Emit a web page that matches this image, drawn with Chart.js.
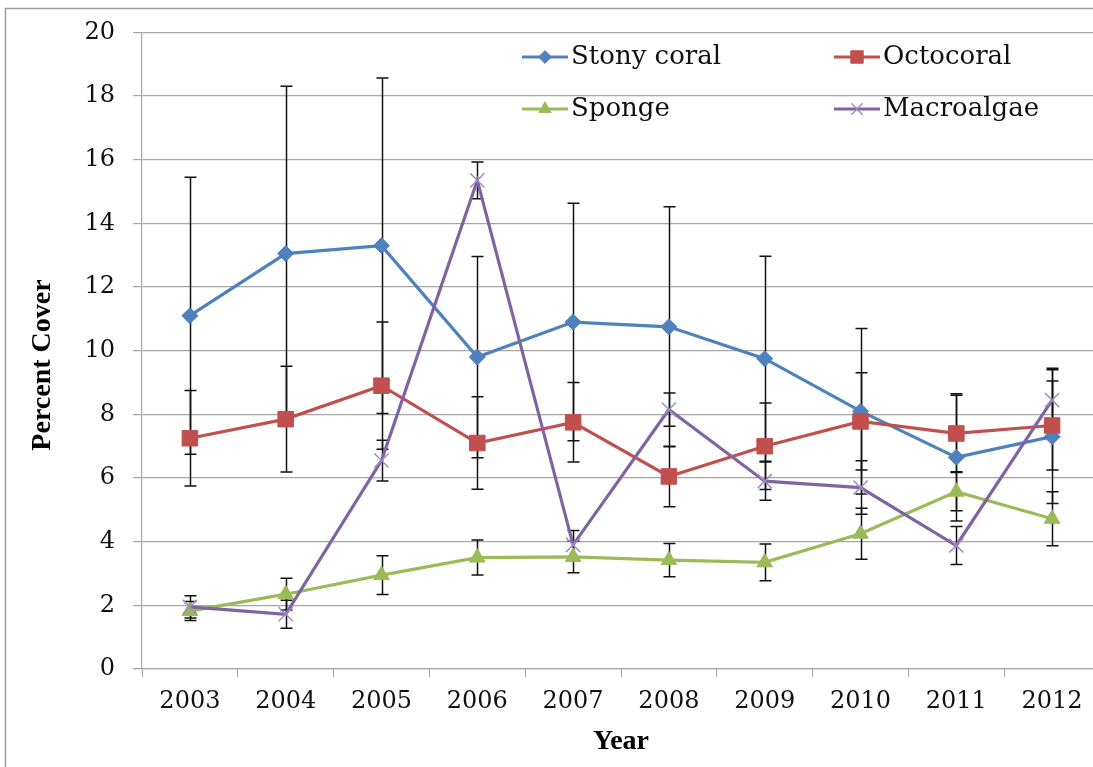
<!DOCTYPE html>
<html>
<head>
<meta charset="utf-8">
<title>Percent Cover by Year</title>
<script src="https://cdn.jsdelivr.net/npm/chart.js@4.4.1/dist/chart.umd.min.js"></script>
<style>
  html, body { margin: 0; padding: 0; background: #fff; overflow: hidden; }
  #wrap { position: relative; width: 1112px; height: 767px; }
</style>
</head>
<body>
<div id="wrap"><canvas id="chart"></canvas></div>
<script>
// Survey years
const years = ['2003', '2004', '2005', '2006', '2007', '2008', '2009', '2010', '2011', '2012'];

// Mean percent cover per group
const stonyCoral = [11.1, 13.05, 13.3, 9.8, 10.9, 10.75, 9.75, 8.1, 6.65, 7.3];
const octocoral  = [7.25, 7.85, 8.9, 7.1, 7.75, 6.05, 7.0, 7.78, 7.4, 7.65];
const sponge     = [1.82, 2.35, 2.95, 3.5, 3.52, 3.42, 3.35, 4.25, 5.57, 4.72];
const macroalgae = [1.95, 1.72, 6.55, 15.35, 3.9, 8.15, 5.9, 5.7, 3.88, 8.45];

// Error (± half-width) per point
const stonyCoralErr = [4.35, 5.26, 5.27, 3.16, 3.73, 3.77, 3.22, 2.6, 2.0, 2.1];
const octocoralErr  = [1.5, 1.66, 2.0, 1.45, 1.25, 0.95, 1.36, 1.53, 1.2, 1.4];
const spongeErr     = [0.3, 0.5, 0.61, 0.55, 0.5, 0.52, 0.58, 0.8, 0.6, 0.85];
const macroalgaeErr = [0.35, 0.44, 0.64, 0.58, 0.45, 0.52, 0.6, 0.84, 0.6, 1.0];

// Y axis range
const yMin = 0, yMax = 20, yStep = 2;

const SERIF = "'DejaVu Serif', 'Liberation Serif', serif";
const TITLE_SERIF = "'Liberation Serif', 'DejaVu Serif', serif";
const GRID = '#a6a6a6';

function series(label, data, err, color, style, radius, order, markerColor, markerWidth) {
  return {
    label, data, err, order,
    borderColor: color,
    backgroundColor: markerColor || color,
    borderWidth: 3.2,
    tension: 0,
    pointStyle: style,
    pointRadius: radius,
    pointHoverRadius: radius,
    pointBackgroundColor: markerColor || color,
    pointBorderColor: markerColor || color,
    pointBorderWidth: markerWidth || 1
  };
}

const datasets = [
  series('Stony coral', stonyCoral, stonyCoralErr, '#4f81bd', 'rectRot', 8, 4),
  series('Octocoral', octocoral, octocoralErr, '#c0504d', 'rect', 11, 3),
  series('Sponge', sponge, spongeErr, '#9bbb59', 'triangle', 9, 2),
  series('Macroalgae', macroalgae, macroalgaeErr, '#8064a2', 'crossRot', 10, 1, '#9c8cbf', 1.5)
];

// White page with thin frame
const framePlugin = {
  id: 'frame',
  beforeDraw(chart) {
    const ctx = chart.ctx;
    ctx.save();
    ctx.fillStyle = '#fff';
    ctx.fillRect(0, 0, chart.width, chart.height);
    ctx.strokeStyle = '#9a9a9a';
    ctx.lineWidth = 1.5;
    ctx.strokeRect(5.5, 8.5, chart.width + 50, chart.height + 50);
    ctx.restore();
  }
};

// Vertical error bars with caps, drawn beneath lines and markers
const errorBarPlugin = {
  id: 'errorBars',
  beforeDatasetsDraw(chart) {
    const ctx = chart.ctx;
    const yScale = chart.scales.y;
    ctx.save();
    ctx.strokeStyle = '#111';
    ctx.lineWidth = 1.5;
    chart.data.datasets.forEach((ds, di) => {
      const meta = chart.getDatasetMeta(di);
      meta.data.forEach((pt, i) => {
        const v = ds.data[i], e = ds.err[i];
        const x = Math.round(pt.x) + 0.5;
        const yTop = yScale.getPixelForValue(v + e);
        const yBot = yScale.getPixelForValue(v - e);
        ctx.beginPath();
        ctx.moveTo(x, yTop); ctx.lineTo(x, yBot);
        ctx.moveTo(x - 6, yTop); ctx.lineTo(x + 6, yTop);
        ctx.moveTo(x - 6, yBot); ctx.lineTo(x + 6, yBot);
        ctx.stroke();
      });
    });
    ctx.restore();
  }
};

function drawMarker(ctx, style, x, y, r, fill, stroke, lw) {
  if (Chart.helpers && Chart.helpers.drawPoint) {
    ctx.fillStyle = fill;
    ctx.strokeStyle = stroke;
    ctx.lineWidth = lw;
    Chart.helpers.drawPoint(ctx, { pointStyle: style, rotation: 0, borderWidth: lw, radius: r }, x, y);
    return;
  }
  ctx.beginPath();
  ctx.fillStyle = fill; ctx.strokeStyle = stroke; ctx.lineWidth = lw;
  if (style === 'rectRot') {
    ctx.moveTo(x, y - r); ctx.lineTo(x + r, y); ctx.lineTo(x, y + r); ctx.lineTo(x - r, y); ctx.closePath(); ctx.fill();
  } else if (style === 'rect') {
    const s = r * Math.SQRT1_2; ctx.rect(x - s, y - s, 2 * s, 2 * s); ctx.fill();
  } else if (style === 'triangle') {
    ctx.moveTo(x, y - r); ctx.lineTo(x + r * 0.866, y + r / 2); ctx.lineTo(x - r * 0.866, y + r / 2); ctx.closePath(); ctx.fill();
  } else {
    const s = r * Math.SQRT1_2;
    ctx.moveTo(x - s, y - s); ctx.lineTo(x + s, y + s); ctx.moveTo(x + s, y - s); ctx.lineTo(x - s, y + s); ctx.stroke();
  }
}

// Two-column legend inside the plot area, plus the rotated y-axis title
const legendPlugin = {
  id: 'insideLegend',
  afterDraw(chart) {
    const ctx = chart.ctx;
    const slots = [
      { x: 545, y: 57 }, { x: 857, y: 57 },
      { x: 545, y: 109 }, { x: 857, y: 109 }
    ];
    ctx.save();
    chart.data.datasets.forEach((ds, i) => {
      const s = slots[i];
      ctx.strokeStyle = ds.borderColor;
      ctx.lineWidth = 3.2;
      ctx.beginPath();
      ctx.moveTo(s.x - 23, s.y); ctx.lineTo(s.x + 23, s.y);
      ctx.stroke();
      drawMarker(ctx, ds.pointStyle, s.x, s.y, ds.pointRadius * 0.8,
                 ds.pointBackgroundColor, ds.pointBorderColor, ds.pointBorderWidth);
      ctx.fillStyle = '#111';
      ctx.font = '26px ' + SERIF;
      ctx.textAlign = 'left';
      ctx.textBaseline = 'middle';
      ctx.fillText(ds.label, s.x + 26, s.y);
    });

    ctx.translate(43, 365);
    ctx.rotate(-Math.PI / 2);
    ctx.fillStyle = '#000';
    ctx.font = 'bold 28px ' + TITLE_SERIF;
    ctx.textAlign = 'center';
    ctx.textBaseline = 'middle';
    ctx.fillText('Percent Cover', 0, 0);
    ctx.restore();
  }
};

new Chart(document.getElementById('chart'), {
  type: 'line',
  data: { labels: years, datasets },
  options: {
    responsive: true,
    maintainAspectRatio: false,
    animation: false,
    events: [],
    layout: { padding: { top: 30, right: 4, left: 0, bottom: 0 } },
    plugins: {
      legend: { display: false },
      tooltip: { enabled: false },
      title: { display: false }
    },
    scales: {
      x: {
        type: 'category',
        offset: true,
        grid: { offset: true, drawOnChartArea: false, drawTicks: true, tickLength: 8, color: GRID, lineWidth: 1 },
        border: { color: GRID, width: 1.2 },
        ticks: {
          color: '#111',
          font: { family: SERIF, size: 24 },
          padding: 10,
          maxRotation: 0,
          autoSkip: false
        },
        title: {
          display: true,
          text: 'Year',
          color: '#000',
          font: { family: TITLE_SERIF, size: 28, weight: 'bold' },
          padding: { top: 0, bottom: 8 }
        },
        afterFit(scale) { scale.height = 98; }
      },
      y: {
        min: yMin,
        max: yMax,
        ticks: {
          stepSize: yStep,
          color: '#111',
          font: { family: SERIF, size: 24 },
          padding: 18
        },
        grid: { color: GRID, lineWidth: 1.2, tickLength: 9 },
        border: { color: GRID, width: 1.2 },
        afterFit(scale) { scale.width = 142; }
      }
    }
  },
  plugins: [framePlugin, errorBarPlugin, legendPlugin]
});
</script>
</body>
</html>
